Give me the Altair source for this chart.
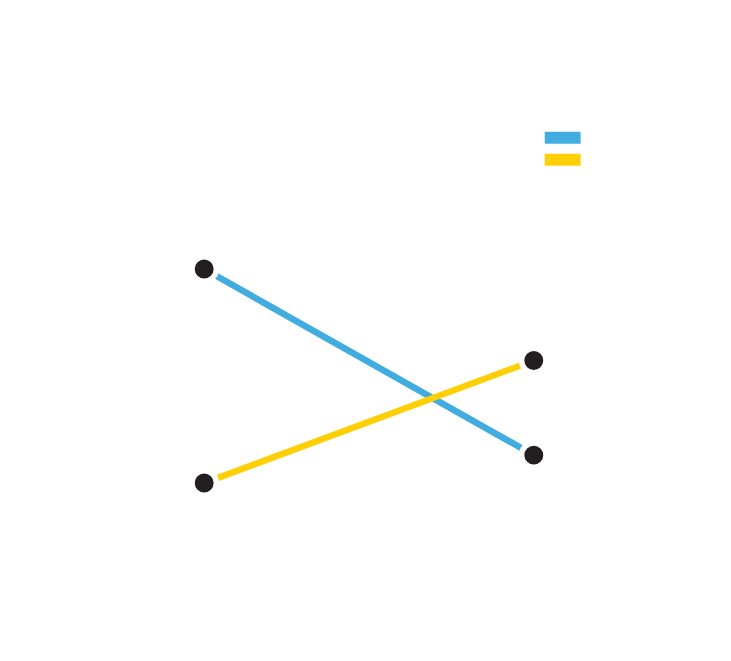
import pandas as pd
import altair as alt

# two series, two points in time (no labels shown in the reference)
series = ['Series 1', 'Series 2']
start_values = [60.0, 20.0]
end_values = [25.2, 42.9]
colors = ['#41acdf', '#ffcf06']

rows = []
for name, a, b in zip(series, start_values, end_values):
    rows.append({'series': name, 'step': 0, 'value': a})
    rows.append({'series': name, 'step': 1, 'value': b})
df = pd.DataFrame(rows)

x = alt.X('step:Q', scale=alt.Scale(domain=[0, 1]), axis=None)
y = alt.Y('value:Q', scale=alt.Scale(domain=[0, 100]), axis=None)

lines = alt.Chart(df).mark_line(strokeWidth=6.5, strokeCap='butt').encode(
    x=x,
    y=y,
    color=alt.Color(
        'series:N',
        scale=alt.Scale(domain=series, range=colors),
        legend=alt.Legend(
            title=None,
            orient='none',
            legendX=336,
            legendY=72,
            symbolType='stroke',
            symbolSize=1296,
            symbolStrokeWidth=12,
            labelExpr="''",
            labelFontSize=0,
            clipHeight=22,
            rowPadding=0,
        ),
    ),
    detail='series:N',
)

dots = alt.Chart(df).mark_point(
    filled=True, size=600, color='#231f20', stroke='white', strokeWidth=5.5, opacity=1
).encode(x=x, y=y)

chart = (lines + dots).properties(
    width=331,
    height=537,
    autosize=alt.AutoSizeParams(type='none'),
    padding={'left': 197, 'top': 46, 'right': 190, 'bottom': 60},
).configure_view(stroke=None)

chart.save('out.html', embed_options={'renderer': 'svg', 'actions': False})
